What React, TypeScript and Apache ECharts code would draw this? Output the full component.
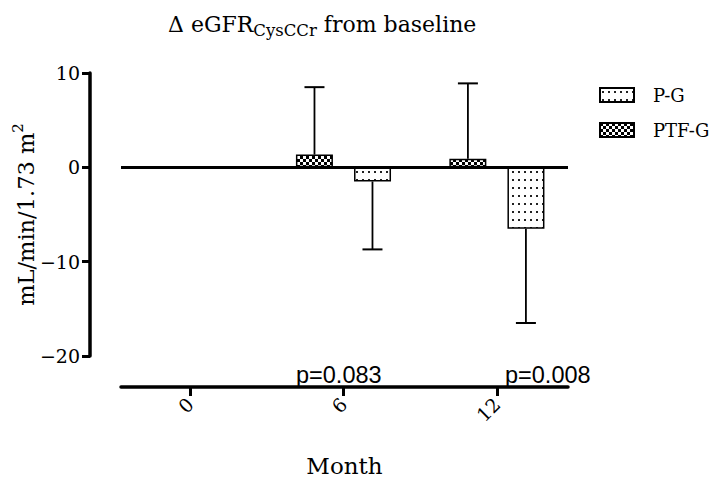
import { useEffect, useRef } from 'react';
import * as echarts from 'echarts';

// Months of follow-up
const months = [0, 6, 12];
const monthTicks = [0, 6, 12];

// Change in eGFR (mean, SD) per group
const pgMean = [0, -1.5, -6.5];
const pgSd = [0, 7.2, 10.0];
const ptfMean = [0, 1.35, 0.9];
const ptfSd = [0, 7.15, 8.0];

// Group comparison p-values at 6 and 12 months
const pValues = ['p=0.083', 'p=0.008'];

const SERIF = '"DejaVu Serif", serif';
const SANS = '"Liberation Sans", Arial, sans-serif';

const BAR_WIDTH = 37;
const BAR_SHIFT = 29;

function makeDotPattern(): string {
  const c = document.createElement('canvas');
  c.width = 6;
  c.height = 8;
  const ctx = c.getContext('2d')!;
  ctx.fillStyle = '#fff';
  ctx.fillRect(0, 0, 6, 8);
  ctx.fillStyle = '#222';
  ctx.fillRect(2, 3, 2, 2);
  return c.toDataURL();
}

function makeCheckerPattern(): string {
  const c = document.createElement('canvas');
  c.width = 6;
  c.height = 6;
  const ctx = c.getContext('2d')!;
  ctx.fillStyle = '#fff';
  ctx.fillRect(0, 0, 6, 6);
  ctx.fillStyle = '#000';
  ctx.fillRect(0, 0, 3, 3);
  ctx.fillRect(3, 3, 3, 3);
  return c.toDataURL();
}

function errorBars(means: number[], sds: number[], shift: number, withZeroLine: boolean) {
  const s: any = {
    type: 'custom',
    silent: true,
    z: 3,
    clip: false,
    data: months.map((m, i) => [m, means[i], sds[i]]),
    renderItem: (_params: any, api: any) => {
      const x = api.value(0);
      const mean = api.value(1);
      const sd = api.value(2);
      if (!sd) return null;
      const end = mean + (mean < 0 ? -sd : sd);
      const a = api.coord([x, mean]);
      const b = api.coord([x, end]);
      const cx = a[0] + shift;
      return {
        type: 'group',
        children: [
          { type: 'line', shape: { x1: cx, y1: a[1], x2: cx, y2: b[1] }, style: { stroke: '#000', lineWidth: 1.8 } },
          { type: 'line', shape: { x1: cx - 10, y1: b[1], x2: cx + 10, y2: b[1] }, style: { stroke: '#000', lineWidth: 2 } },
        ],
      };
    },
  };
  if (withZeroLine) {
    s.markLine = {
      silent: true,
      symbol: ['none', 'none'],
      label: { show: false },
      lineStyle: { color: '#000', width: 3, type: 'solid' },
      data: [{ yAxis: 0 }],
    };
  }
  return s;
}

export default function App() {
  const ref = useRef<HTMLDivElement>(null);

  useEffect(() => {
    if (!ref.current) return;
    const chart = echarts.init(ref.current, null, { renderer: 'svg' });
    const dots = makeDotPattern();
    const checker = makeCheckerPattern();

    chart.setOption({
      animation: false,
      backgroundColor: '#fff',
      title: {
        left: 163,
        top: 5,
        text: '{m|Δ eGFR}{s|CysCCr}{m| from baseline}',
        textStyle: {
          fontWeight: 'normal',
          rich: {
            m: { fontFamily: SERIF, fontSize: 22, fontWeight: 'normal', color: '#000' },
            s: { fontFamily: SERIF, fontSize: 16.5, fontWeight: 'normal', color: '#000', padding: [12, 0, 0, 0] },
          },
        },
      },
      legend: {
        orient: 'vertical',
        left: 594,
        top: 81,
        itemWidth: 34,
        itemHeight: 14,
        itemGap: 17,
        icon: 'rect',
        selectedMode: false,
        data: ['P-G', 'PTF-G'],
        textStyle: { fontFamily: SERIF, fontSize: 18, color: '#000', padding: [0, 0, 0, 14] },
      },
      grid: { left: 121, right: 152, top: 73, bottom: 130 },
      xAxis: {
        type: 'value',
        min: -2.7,
        max: 14.78,
        offset: 31,
        name: 'Month',
        nameLocation: 'middle',
        nameGap: 67,
        nameTextStyle: { fontFamily: SERIF, fontSize: 23, color: '#000' },
        axisLine: { show: true, onZero: false, lineStyle: { color: '#000', width: 3.5 } },
        axisTick: { show: true, customValues: monthTicks, length: 9, lineStyle: { color: '#000', width: 3 } },
        axisLabel: {
          customValues: monthTicks,
          rotate: 45,
          margin: 14,
          fontFamily: SERIF,
          fontSize: 19,
          color: '#000',
        },
        splitLine: { show: false },
      },
      yAxis: {
        type: 'value',
        min: -20,
        max: 10,
        interval: 10,
        offset: 31,
        name: '{m|mL/min/1.73 m}{p|2}',
        nameLocation: 'middle',
        nameGap: 49,
        nameMoveOverlap: false,
        nameTextStyle: {
          rich: {
            m: { fontFamily: SERIF, fontSize: 22.5, color: '#000' },
            p: { fontFamily: SERIF, fontSize: 15, color: '#000', padding: [0, 0, 16, 0] },
          },
        },
        axisLine: { show: true, onZero: false, lineStyle: { color: '#000', width: 3.5 } },
        axisTick: { show: true, length: 8, lineStyle: { color: '#000', width: 3 } },
        axisLabel: {
          margin: 10,
          fontFamily: SERIF,
          fontSize: 19,
          color: '#000',
          formatter: (v: number) => String(v).replace('-', '\u2212'),
        },
        splitLine: { show: false },
      },
      series: [
        {
          name: 'PTF-G',
          type: 'bar',
          barWidth: BAR_WIDTH,
          barGap: '57%',
          data: months.map((m, i) => [m, ptfMean[i]]),
          itemStyle: {
            color: { image: checker, repeat: 'repeat', imageWidth: 6, imageHeight: 6 },
            borderColor: '#000',
            borderWidth: 1.5,
          },
        },
        {
          name: 'P-G',
          type: 'bar',
          barWidth: BAR_WIDTH,
          barGap: '57%',
          data: months.map((m, i) => [m, pgMean[i]]),
          itemStyle: {
            color: { image: dots, repeat: 'repeat', imageWidth: 6, imageHeight: 8 },
            borderColor: '#000',
            borderWidth: 1.5,
          },
        },
        errorBars(ptfMean, ptfSd, -BAR_SHIFT, true),
        errorBars(pgMean, pgSd, BAR_SHIFT, false),
      ],
      graphic: [
        {
          type: 'text',
          x: 296,
          y: 375,
          style: { text: pValues[0], font: `23.5px ${SANS}`, fill: '#000', verticalAlign: 'middle' },
        },
        {
          type: 'text',
          x: 505,
          y: 375,
          style: { text: pValues[1], font: `23.5px ${SANS}`, fill: '#000', verticalAlign: 'middle' },
        },
      ],
    });

    return () => chart.dispose();
  }, []);

  return <div ref={ref} style={{ position: 'absolute', left: 0, top: 0, width: 720, height: 486 }} />;
}
